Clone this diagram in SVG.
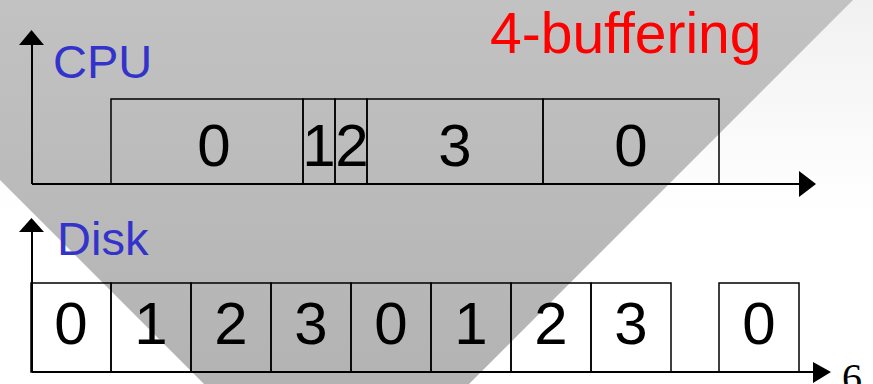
<svg xmlns="http://www.w3.org/2000/svg" width="873" height="384" viewBox="0 0 873 384">
  <defs>
    <linearGradient id="bg" x1="0" y1="0" x2="0" y2="1">
      <stop offset="0" stop-color="#f1f1f1"/>
      <stop offset="0.55" stop-color="#ffffff"/>
      <stop offset="1" stop-color="#ffffff"/>
    </linearGradient>
    <linearGradient id="tri" x1="0" y1="0" x2="0" y2="1">
      <stop offset="0" stop-color="#c2c2c2"/>
      <stop offset="1" stop-color="#b3b3b3"/>
    </linearGradient>
  </defs>
  <style>
    .box { fill: none; stroke: #000; stroke-width: 1.5; }
    .axis { fill: none; stroke: #000; stroke-width: 2; }
    .head { fill: #000; }
    .dig { font-family: "Liberation Sans", Arial, sans-serif; font-size: 60px; fill: #000; text-anchor: middle; }
    .lbl { font-family: "Liberation Sans", Arial, sans-serif; font-size: 47px; fill: #3333cc; }
    .title { font-family: "Liberation Sans", Arial, sans-serif; font-size: 57px; fill: #ff0000; }
  </style>
  <rect x="0" y="0" width="873" height="384" fill="url(#bg)"/>
  <polygon points="0,0 853,0 469,384 204,384 0,180" fill="url(#tri)"/>

  <text class="title" x="490" y="53">4-buffering</text>

  <g id="connectors">
    <line class="axis" x1="32" y1="44" x2="32" y2="184"/>
    <polygon class="head" points="31.5,30 19,45 44,45"/>
    <line class="axis" x1="32" y1="184" x2="800" y2="184"/>
    <polygon class="head" points="816,184 799,171 799,197"/>
    <line class="axis" x1="32" y1="231" x2="32" y2="372"/>
    <polygon class="head" points="31.5,218 19,232 44,232"/>
    <line class="axis" x1="32" y1="372" x2="814" y2="372"/>
    <polygon class="head" points="831,372 813,362 813,383"/>
  </g>

  <g id="cpu-label"><text class="lbl" x="53" y="78">CPU</text></g>
  <g id="disk-label"><text class="lbl" x="57" y="255">Disk</text></g>

  <g id="cpu-0a"><rect class="box" x="111" y="99" width="192" height="85"/><text class="dig" x="214" y="166">0</text></g>
  <g id="cpu-1"><rect class="box" x="303" y="99" width="32" height="85"/><text class="dig" x="319" y="166">1</text></g>
  <g id="cpu-2"><rect class="box" x="335" y="99" width="32" height="85"/><text class="dig" x="352" y="166">2</text></g>
  <g id="cpu-3"><rect class="box" x="367" y="99" width="176" height="85"/><text class="dig" x="455" y="166">3</text></g>
  <g id="cpu-0b"><rect class="box" x="543" y="99" width="176" height="85"/><text class="dig" x="631" y="166">0</text></g>

  <g id="disk-0a"><rect class="box" x="31" y="283" width="80" height="89"/><text class="dig" x="71" y="344">0</text></g>
  <g id="disk-1a"><rect class="box" x="111" y="283" width="80" height="89"/><text class="dig" x="151" y="344">1</text></g>
  <g id="disk-2a"><rect class="box" x="191" y="283" width="80" height="89"/><text class="dig" x="231" y="344">2</text></g>
  <g id="disk-3a"><rect class="box" x="271" y="283" width="80" height="89"/><text class="dig" x="311" y="344">3</text></g>
  <g id="disk-0b"><rect class="box" x="351" y="283" width="80" height="89"/><text class="dig" x="391" y="344">0</text></g>
  <g id="disk-1b"><rect class="box" x="431" y="283" width="80" height="89"/><text class="dig" x="471" y="344">1</text></g>
  <g id="disk-2b"><rect class="box" x="511" y="283" width="80" height="89"/><text class="dig" x="551" y="344">2</text></g>
  <g id="disk-3b"><rect class="box" x="591" y="283" width="80" height="89"/><text class="dig" x="631" y="344">3</text></g>
  <g id="disk-0c"><rect class="box" x="719" y="283" width="80" height="89"/><text class="dig" x="759" y="344">0</text></g>

  <text x="842" y="391" font-family="Liberation Serif, 'Times New Roman', serif" font-size="40" fill="#000">6</text>
</svg>
